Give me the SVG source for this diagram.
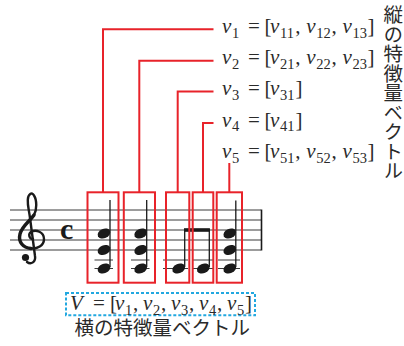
<svg xmlns="http://www.w3.org/2000/svg" width="404" height="346" viewBox="0 0 404 346">
<style>
.red{fill:none;stroke:#e8232a;stroke-width:2}
.staff{stroke:#3a3a3a;stroke-width:1}
.stem{stroke:#1a1a1a;stroke-width:1.3}
.m{font-family:"Liberation Serif",serif;font-size:21px;fill:#2a2a2a}
.i{font-style:italic}
.s{font-size:14.5px}
.jp{font-family:"Noto Sans CJK JP","Noto Sans",sans-serif;font-size:19.5px;fill:#2a2a2a}
</style>
<defs>
<ellipse id="nh" rx="6.6" ry="4.7" transform="rotate(-24)" fill="#1a1a1a"/>
</defs>
<rect width="404" height="346" fill="#fff"/>

<g id="staff">
<line class="staff" x1="10" y1="210" x2="261" y2="210"/>
<line class="staff" x1="10" y1="220" x2="261" y2="220"/>
<line class="staff" x1="10" y1="230" x2="261" y2="230"/>
<line class="staff" x1="10" y1="240" x2="261" y2="240"/>
<line class="staff" x1="10" y1="250" x2="261" y2="250"/>
<line x1="261.5" y1="209.5" x2="261.5" y2="250.5" stroke="#1a1a1a" stroke-width="1.6"/>
<g fill="none" stroke="#1a1a1a" stroke-linecap="round">
<path d="M33 239 C29 239 28 234 31 232 C36 229 44 232 44 239 C44 246 37 249 31 248.5" stroke-width="2.4"/>
<path d="M31 248.5 C23 248 18 242 20 234 C22 226 30 221 34 215" stroke-width="3.4"/>
<path d="M34 215 C37 210 37 200 34 195.5 C32 191.5 28 194 27.8 200 C27.5 206 29 210 30 218 L35 256 C36 262 31 265 27 262" stroke-width="2.4"/>
</g>
<circle cx="25.5" cy="257.5" r="3.6" fill="#1a1a1a"/>
<text x="60" y="238.5" font-family="Liberation Serif,serif" font-weight="bold" font-size="30" fill="#1a1a1a">c</text>
</g>

<g id="chord1">
<line class="staff" x1="94.5" y1="260" x2="113" y2="260"/>
<line class="staff" x1="94.5" y1="268.5" x2="113" y2="268.5"/>
<use href="#nh" x="104" y="233.5"/>
<use href="#nh" x="104" y="250"/>
<use href="#nh" x="104" y="268.5"/>
<line class="stem" x1="110" y1="200" x2="110" y2="267"/>
</g>
<g id="chord2">
<line class="staff" x1="131" y1="260" x2="149.5" y2="260"/>
<line class="staff" x1="131" y1="268.5" x2="149.5" y2="268.5"/>
<use href="#nh" x="140.7" y="233.5"/>
<use href="#nh" x="140.7" y="250"/>
<use href="#nh" x="140.7" y="268.5"/>
<line class="stem" x1="146.7" y1="200" x2="146.7" y2="267"/>
</g>
<g id="note3">
<line class="staff" x1="163" y1="260" x2="188" y2="260"/>
<line class="staff" x1="163" y1="268.5" x2="188" y2="268.5"/>
<use href="#nh" x="178.7" y="268.5"/>
<line class="stem" x1="184.7" y1="229" x2="184.7" y2="267"/>
</g>
<g id="note4">
<line class="staff" x1="193" y1="260" x2="213" y2="260"/>
<line class="staff" x1="193" y1="268.5" x2="213" y2="268.5"/>
<use href="#nh" x="203.3" y="268.5"/>
<line class="stem" x1="209.3" y1="229" x2="209.3" y2="267"/>
<rect x="184" y="228.2" width="25.9" height="3.6" fill="#1a1a1a"/>
</g>
<g id="chord5">
<line class="staff" x1="218" y1="260" x2="240" y2="260"/>
<line class="staff" x1="218" y1="268.5" x2="240" y2="268.5"/>
<use href="#nh" x="229.8" y="233.5"/>
<use href="#nh" x="229.8" y="250"/>
<use href="#nh" x="229.8" y="268.5"/>
<line class="stem" x1="235.8" y1="200.5" x2="235.8" y2="267"/>
</g>

<g id="boxes">
<rect class="red" x="87.5" y="192.3" width="31" height="90.4"/>
<rect class="red" x="123.8" y="192.3" width="31.2" height="90.4"/>
<rect class="red" x="166" y="192.3" width="23.3" height="90.4"/>
<rect class="red" x="192.7" y="192.3" width="20.6" height="90.4"/>
<rect class="red" x="216.7" y="192.3" width="25.3" height="90.4"/>
</g>

<g id="connectors">
<polyline class="red" points="103,192.3 103,29.3 213.5,29.3"/>
<polyline class="red" points="139.3,192.3 139.3,60.7 213.5,60.7"/>
<polyline class="red" points="177.7,192.3 177.7,91.5 213.5,91.5"/>
<polyline class="red" points="203,192.3 203,123 213.5,123"/>
<line class="red" x1="229.3" y1="163" x2="229.3" y2="192.3"/>
</g>

<g id="v1" transform="translate(222,33)">
<text class="m"><tspan class="i" x="0" y="0">v</tspan><tspan class="s" x="10" y="4.5">1</tspan><tspan x="26" y="0">=</tspan><tspan x="42.5" y="0">[</tspan><tspan class="i" x="48" y="0">v</tspan><tspan class="s" x="58" y="4.5">11</tspan><tspan x="73.3" y="0">,</tspan><tspan class="i" x="84.2" y="0">v</tspan><tspan class="s" x="94.2" y="4.5">12</tspan><tspan x="109.5" y="0">,</tspan><tspan class="i" x="120.4" y="0">v</tspan><tspan class="s" x="130.4" y="4.5">13</tspan><tspan x="145.5" y="0">]</tspan></text>
</g>
<g id="v2" transform="translate(222,64)">
<text class="m"><tspan class="i" x="0" y="0">v</tspan><tspan class="s" x="10" y="4.5">2</tspan><tspan x="26" y="0">=</tspan><tspan x="42.5" y="0">[</tspan><tspan class="i" x="48" y="0">v</tspan><tspan class="s" x="58" y="4.5">21</tspan><tspan x="73.3" y="0">,</tspan><tspan class="i" x="84.2" y="0">v</tspan><tspan class="s" x="94.2" y="4.5">22</tspan><tspan x="109.5" y="0">,</tspan><tspan class="i" x="120.4" y="0">v</tspan><tspan class="s" x="130.4" y="4.5">23</tspan><tspan x="145.5" y="0">]</tspan></text>
</g>
<g id="v3" transform="translate(222,95)">
<text class="m"><tspan class="i" x="0" y="0">v</tspan><tspan class="s" x="10" y="4.5">3</tspan><tspan x="26" y="0">=</tspan><tspan x="42.5" y="0">[</tspan><tspan class="i" x="48" y="0">v</tspan><tspan class="s" x="58" y="4.5">31</tspan><tspan x="73.5" y="0">]</tspan></text>
</g>
<g id="v4" transform="translate(222,126.5)">
<text class="m"><tspan class="i" x="0" y="0">v</tspan><tspan class="s" x="10" y="4.5">4</tspan><tspan x="26" y="0">=</tspan><tspan x="42.5" y="0">[</tspan><tspan class="i" x="48" y="0">v</tspan><tspan class="s" x="58" y="4.5">41</tspan><tspan x="73.5" y="0">]</tspan></text>
</g>
<g id="v5" transform="translate(222,158)">
<text class="m"><tspan class="i" x="0" y="0">v</tspan><tspan class="s" x="10" y="4.5">5</tspan><tspan x="26" y="0">=</tspan><tspan x="42.5" y="0">[</tspan><tspan class="i" x="48" y="0">v</tspan><tspan class="s" x="58" y="4.5">51</tspan><tspan x="73.3" y="0">,</tspan><tspan class="i" x="84.2" y="0">v</tspan><tspan class="s" x="94.2" y="4.5">52</tspan><tspan x="109.5" y="0">,</tspan><tspan class="i" x="120.4" y="0">v</tspan><tspan class="s" x="130.4" y="4.5">53</tspan><tspan x="145.5" y="0">]</tspan></text>
</g>

<g id="vertical-label">
<text class="jp" x="393.3" y="5" style="writing-mode:vertical-rl">縦の特徴量ベクトル</text>
</g>

<g id="V">
<rect x="66" y="293" width="189" height="22.3" fill="none" stroke="#22a8e0" stroke-width="2" stroke-dasharray="3 2"/>
<g transform="translate(70,310)">
<text class="m"><tspan class="i" x="0" y="0">V</tspan><tspan x="23" y="0">=</tspan><tspan x="40" y="0">[</tspan><tspan class="i" x="45" y="0">v</tspan><tspan class="s" x="55" y="4.5">1</tspan><tspan x="63" y="0">,</tspan><tspan class="i" x="73" y="0">v</tspan><tspan class="s" x="83" y="4.5">2</tspan><tspan x="91" y="0">,</tspan><tspan class="i" x="101" y="0">v</tspan><tspan class="s" x="111" y="4.5">3</tspan><tspan x="119" y="0">,</tspan><tspan class="i" x="129" y="0">v</tspan><tspan class="s" x="139" y="4.5">4</tspan><tspan x="147" y="0">,</tspan><tspan class="i" x="157" y="0">v</tspan><tspan class="s" x="167" y="4.5">5</tspan><tspan x="175" y="0">]</tspan></text>
</g>
<text class="jp" x="74.5" y="335">横の特徴量ベクトル</text>
</g>
</svg>
